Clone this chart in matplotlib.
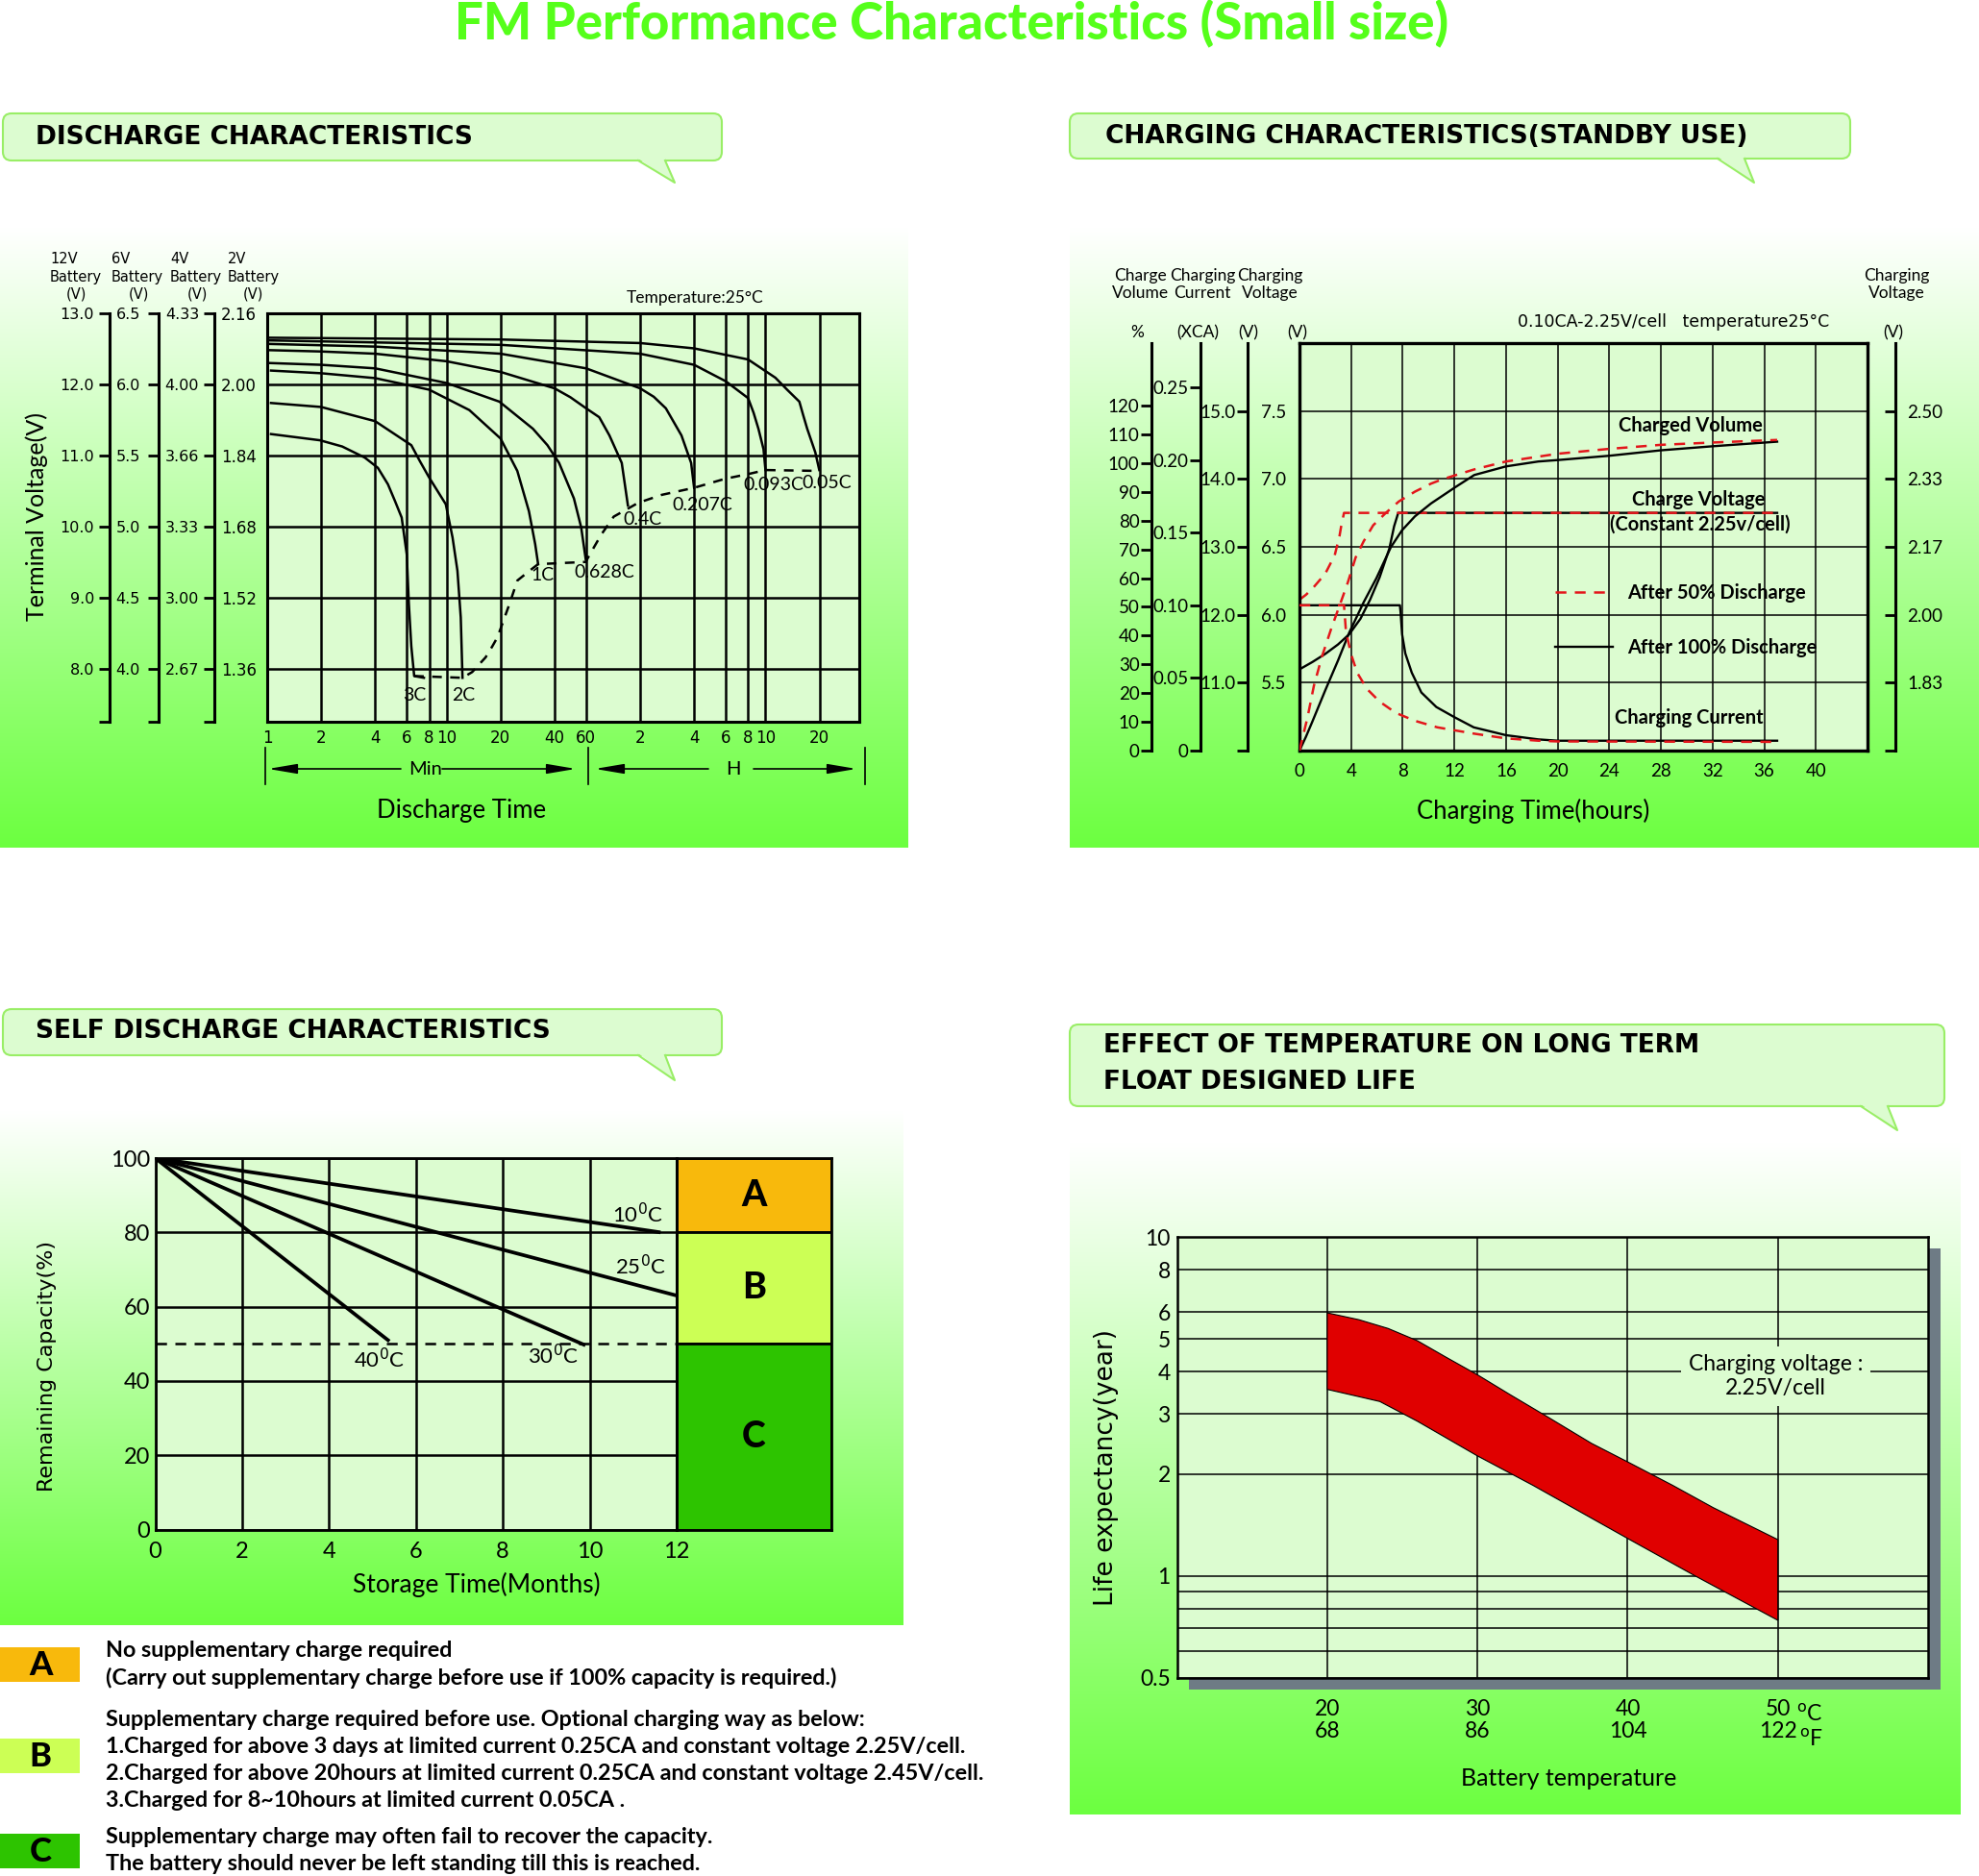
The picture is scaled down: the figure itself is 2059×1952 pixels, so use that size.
import numpy as np
import matplotlib
matplotlib.use("Agg")
import matplotlib.pyplot as plt
from matplotlib.colors import LinearSegmentedColormap
from matplotlib.patches import FancyBboxPatch, Polygon, Rectangle
from matplotlib.ticker import NullLocator

# ---------------------------------------------------------------- data
# discharge curves: time in minutes, terminal voltage per 2V cell
dis_names = ["3C", "2C", "1C", "0.628C", "0.4C", "0.207C", "0.093C", "0.05C"]
t_3c = [1.05, 1.97, 2.62, 3.50, 4.14, 4.71, 5.16, 5.62, 6.00, 6.16, 6.36, 6.60, 7.48]
v_3c = [1.888, 1.874, 1.860, 1.835, 1.812, 1.775, 1.737, 1.700, 1.617, 1.507, 1.410, 1.343, 1.339]
t_2c = [1.05, 2.0, 4.0, 6.36, 7.1, 8.0, 9.9, 10.8, 11.5, 12.0, 12.27]
v_2c = [1.958, 1.949, 1.917, 1.863, 1.827, 1.790, 1.730, 1.655, 1.580, 1.475, 1.339]
t_1c = [1.05, 2, 4, 8, 13.4, 20, 24.8, 28.8, 31.2, 32.4]
v_1c = [2.031, 2.025, 2.014, 1.988, 1.942, 1.878, 1.805, 1.714, 1.640, 1.595]
t_0628 = [1.03, 2, 4, 10, 19.7, 30.3, 36.5, 42.4, 51.3, 56.3, 59.7]
v_0628 = [2.048, 2.044, 2.036, 2.003, 1.961, 1.900, 1.863, 1.823, 1.743, 1.678, 1.606]
t_04 = [1.03, 2, 4, 10, 20, 40, 49, 60, 71, 80.9, 94.8, 102.6]
v_04 = [2.077, 2.074, 2.069, 2.052, 2.028, 1.991, 1.971, 1.946, 1.926, 1.885, 1.823, 1.727]
t_0207 = [1.03, 4, 20, 60, 120, 143, 167, 204, 231, 240]
v_0207 = [2.091, 2.085, 2.069, 2.036, 1.991, 1.972, 1.946, 1.885, 1.823, 1.767]
t_0093 = [1.03, 20, 120, 240, 360, 480, 515, 548, 585, 600]
v_0093 = [2.099, 2.089, 2.069, 2.044, 2.007, 1.969, 1.936, 1.900, 1.854, 1.807]
t_005 = [1.03, 20, 120, 240, 480, 681, 792, 927, 973, 1025, 1137, 1197]
v_005 = [2.105, 2.101, 2.093, 2.081, 2.056, 2.015, 1.988, 1.961, 1.931, 1.900, 1.847, 1.807]
dis_times = [t_3c, t_2c, t_1c, t_0628, t_04, t_0207, t_0093, t_005]
dis_volts = [v_3c, v_2c, v_1c, v_0628, v_04, v_0207, v_0093, v_005]
# final discharge voltage (dashed)
cut_t = [6.6, 12.27, 13.9, 16.5, 18.0, 19.2, 20.4, 22.5, 24.8, 29.0, 32.4, 59.7,
         62.3, 73.0, 85.5, 102.6, 116.9, 158, 240, 355, 494, 600, 1197]
cut_v = [1.343, 1.339, 1.352, 1.385, 1.410, 1.430, 1.459, 1.507, 1.558, 1.580, 1.595, 1.600,
         1.614, 1.662, 1.702, 1.720, 1.733, 1.751, 1.767, 1.787, 1.799, 1.807, 1.805]
dis_ticks = [1, 2, 4, 6, 8, 10, 20, 40, 60, 120, 240, 360, 480, 600, 1200]
dis_tick_labels = ["1", "2", "4", "6", "8", "10", "20", "40", "60", "2", "4", "6", "8", "10", "20"]
cell_levels = [2.16, 2.00, 1.84, 1.68, 1.52, 1.36]
v12_labels = ["13.0", "12.0", "11.0", "10.0", "9.0", "8.0"]
v6_labels = ["6.5", "6.0", "5.5", "5.0", "4.5", "4.0"]
v4_labels = ["4.33", "4.00", "3.66", "3.33", "3.00", "2.67"]
v2_labels = ["2.16", "2.00", "1.84", "1.68", "1.52", "1.36"]

# charging (hours) -> volume %, volts per cell, current in CA
vol100_h = [0, 0.5, 1.0, 2.0, 3.0, 3.85, 4.97, 5.96, 7.08, 7.95, 8.94, 10.19, 12.05, 13.54,
            16.0, 18.5, 20.0, 24.0, 28.0, 32.0, 37.0]
vol100 = [0, 4.8, 10.1, 21.0, 31.5, 41.0, 51.6, 60.0, 70.8, 76.7, 81.5, 86.0, 91.6, 95.9,
          98.9, 100.6, 101.1, 102.6, 104.5, 105.9, 107.5]
vol50_h = [0, 0.62, 1.12, 1.74, 2.48, 3.11, 3.73, 4.35, 4.97, 5.71, 6.71, 7.70, 8.94, 10.19,
           11.06, 13.5, 16.0, 20.0, 24.0, 28.0, 32.0, 37.0]
vol50 = [0, 11.5, 22.6, 32.7, 42.7, 50.5, 58.3, 67.2, 72.8, 78.4, 82.8, 86.7, 90.1, 92.9,
         94.4, 97.8, 100.6, 103.3, 105.0, 106.4, 107.2, 108.1]
volt100_h = [0, 1.0, 2.0, 2.98, 3.85, 4.72, 5.47, 6.21, 6.96, 7.33, 7.65, 37.0]
volt100 = [1.866, 1.884, 1.904, 1.927, 1.952, 1.990, 2.037, 2.092, 2.162, 2.217, 2.25, 2.25]
volt50_h = [0, 0.5, 1.0, 2.0, 2.73, 3.1, 3.23, 3.45, 37.0]
volt50 = [2.037, 2.049, 2.064, 2.101, 2.146, 2.193, 2.217, 2.25, 2.25]
cur100_h = [0, 7.78, 7.83, 7.95, 8.2, 8.7, 9.44, 10.6, 12.0, 13.5, 16.0, 18.5, 20.0, 37.0]
cur100 = [0.10, 0.10, 0.0955, 0.080, 0.0668, 0.0536, 0.040, 0.030, 0.023, 0.016, 0.0106,
          0.0077, 0.0068, 0.0068]
cur50_h = [0, 3.45, 3.6, 3.98, 4.47, 5.22, 6.21, 7.45, 8.94, 10.68, 13.5, 16.0, 18.5, 20.0, 37.0]
cur50 = [0.10, 0.10, 0.0822, 0.0668, 0.0536, 0.0425, 0.0337, 0.026, 0.0205, 0.016, 0.0117,
         0.0084, 0.0068, 0.0063, 0.006]
chg_ticks = [11 / 6, 2.0, 13 / 6, 7 / 3, 2.5]
chg_v6 = ["5.5", "6.0", "6.5", "7.0", "7.5"]
chg_v12 = ["11.0", "12.0", "13.0", "14.0", "15.0"]
chg_cell = ["1.83", "2.00", "2.17", "2.33", "2.50"]
vol_ticks = list(range(0, 121, 10))
cur_ticks = [0, 0.05, 0.10, 0.15, 0.20, 0.25]
cur_labels = ["0", "0.05", "0.10", "0.15", "0.20", "0.25"]

# self discharge: months -> remaining capacity %
sd_temps = ["10", "25", "30", "40"]
sd_months = [[0, 11.63], [0, 12.0], [0, 9.9], [0, 5.39]]
sd_capacity = [[100, 80.0], [100, 63.0], [100, 49.6], [100, 50.7]]
zone_names = ["A", "B", "C"]
zone_hi = [100, 80, 50]
zone_lo = [80, 50, 0]
zone_colors = ["#f8b90c", "#ccff55", "#2dc400"]
zone_notes = [
    ["No supplementary charge required",
     "(Carry out supplementary charge before use if 100% capacity is required.)"],
    ["Supplementary charge required before use. Optional charging way as below:",
     "1.Charged for above 3 days at limited current 0.25CA and constant voltage 2.25V/cell.",
     "2.Charged for above 20hours at limited current 0.25CA and constant voltage 2.45V/cell.",
     "3.Charged for 8~10hours at limited current 0.05CA ."],
    ["Supplementary charge may often fail to recover the capacity.",
     "The battery should never be left standing till this is reached."],
]

# float life vs temperature
life_T_hi = [20, 22.1, 24.05, 26.0, 27.9, 30.0, 32.2, 34.7, 37.6, 40.0, 43.0, 45.7, 50.0]
life_hi = [5.97, 5.70, 5.37, 4.94, 4.42, 3.92, 3.42, 2.94, 2.46, 2.17, 1.85, 1.59, 1.28]
life_T_lo = [20, 21.35, 23.5, 26.0, 30.0, 33.7, 40.0, 44.5, 50.0]
life_lo = [3.55, 3.44, 3.27, 2.86, 2.26, 1.85, 1.29, 1.0, 0.74]
temp_c = [20, 30, 40, 50]
temp_f = [68, 86, 104, 122]
life_ticks = [0.5, 0.6, 0.7, 0.8, 0.9, 1, 2, 3, 4, 5, 6, 8, 10]
life_labels = ["0.5", "", "", "", "", "1", "2", "3", "4", "5", "6", "8", "10"]

# ---------------------------------------------------------------- style
W, H = 2059, 1952
plt.rcParams["font.family"] = ["Lato", "DejaVu Sans"]
plt.rcParams["mathtext.fontset"] = "dejavusans"
VERD = ["DejaVu Sans"]
PLOT_BG = "#dcfcd0"
BOX_FACE = "#dcfcd0"
BOX_EDGE = "#99ee66"
RED = "#e3161b"
panel_cmap = LinearSegmentedColormap.from_list("panel", ["#ffffff", "#6cff40"])

fig = plt.figure(figsize=(W / 100, H / 100), dpi=100)
bg = fig.add_axes([0, 0, 1, 1])
bg.set_zorder(-5)
bg.axis("off")


def px(x0, y0, x1, y1):
    return [x0 / W, 1 - y1 / H, (x1 - x0) / W, (y1 - y0) / H]


def panel(x0, y0, x1, y1):
    bg.imshow(np.linspace(0, 1, 256)[:, None], extent=(x0, x1, y1, y0), cmap=panel_cmap,
              aspect="auto", interpolation="bilinear", zorder=0)


def callout(x0, y0, x1, y1, tip, lines, tx, tys):
    bg.add_patch(FancyBboxPatch((x0, y0), x1 - x0, y1 - y0, boxstyle="round,pad=0,rounding_size=9",
                                fc=BOX_FACE, ec=BOX_EDGE, lw=1.5, zorder=2))
    px_, py_ = tip
    bg.add_patch(Polygon([(px_ - 38, y1 - 2), (px_, py_), (px_ - 10, y1 - 2)], closed=True,
                         fc=BOX_FACE, ec="none", zorder=3))
    bg.plot([px_ - 38, px_, px_ - 10], [y1, py_, y1], color=BOX_EDGE, lw=1.5, zorder=3)
    for s, ty in zip(lines, tys):
        bg.text(tx, ty, s, fontfamily=VERD, weight="bold", fontsize=19, va="center", zorder=4)


def scale_bar(x, y0, y1, lim, ticks, labels, side="left", pad=2.0, size=12, family=None):
    a = fig.add_axes(px(x - 1, y0, x + 1, y1))
    a.set_ylim(lim)
    a.patch.set_visible(False)
    a.set_xticks([])
    for name, sp in a.spines.items():
        sp.set_visible(name == side)
        sp.set_linewidth(2.2)
    a.set_yticks(ticks, labels)
    if side == "right":
        a.yaxis.tick_right()
    a.tick_params(axis="y", direction="in" if side == "right" else "out", length=8, width=2,
                  pad=pad, labelsize=size, labelfontfamily=family or plt.rcParams["font.family"])
    return a


# ---------------------------------------------------------------- backgrounds
panel(0, 236, 945, 882)
panel(1113, 236, 2059, 882)
panel(0, 1155, 940, 1691)
panel(1113, 1188, 2040, 1888)
bg.text(990, 40, "FM Performance Characteristics (Small size)", ha="center", va="baseline",
        fontsize=38, weight="black", color="#55ff1a")
callout(3, 118, 751, 167, (702, 190), ["DISCHARGE CHARACTERISTICS"], 37, [143])
callout(1113, 118, 1925, 165, (1825, 190), ["CHARGING CHARACTERISTICS(STANDBY USE)"], 1150, [142])
callout(3, 1050, 751, 1098, (702, 1124), ["SELF DISCHARGE CHARACTERISTICS"], 37, [1073])
callout(1113, 1066, 2023, 1151, (1974, 1176),
        ["EFFECT OF TEMPERATURE ON LONG TERM", "FLOAT DESIGNED LIFE"], 1148, [1088, 1126])

# ---------------------------------------------------------------- discharge characteristics
ax1 = fig.add_axes(px(278, 326, 894, 751))
ax1.set_facecolor(PLOT_BG)
ax1.set_xscale("log")
ax1.set_xlim(1, 2000)
ax1.set_ylim(1.24, 2.16)
ax1.set_xticks(dis_ticks, dis_tick_labels)
ax1.xaxis.set_minor_locator(NullLocator())
ax1.set_yticks(cell_levels, v2_labels)
ax1.grid(True, color="black", lw=1.8)
ax1.tick_params(length=0, labelsize=12, labelfontfamily=VERD)
ax1.tick_params(axis="x", pad=6)
ax1.tick_params(axis="y", pad=8)
for sp in ax1.spines.values():
    sp.set_linewidth(2.2)
for t, v in zip(dis_times, dis_volts):
    ax1.plot(t, v, color="black", lw=1.8, solid_joinstyle="round")
ax1.plot(cut_t, cut_v, color="black", lw=1.8, ls=(0, (4, 3.5)))
dis_label_pos = [(6.6, 1.30), (12.4, 1.30), (34.5, 1.571), (76, 1.576), (123, 1.695),
                 (268, 1.729), (667, 1.773), (1315, 1.777)]
for name, (lt, lv) in zip(dis_names, dis_label_pos):
    ax1.text(lt, lv, name, ha="center", va="center", fontsize=14)

for x, labs, pad in [(115, v12_labels, 3.5), (165.5, v6_labels, 5.5), (224, v4_labels, 3.4)]:
    scale_bar(x, 326, 751, (1.24, 2.16), cell_levels + [1.24], labs + [""], pad=pad,
              size=11.5, family=VERD)
for lx, cx, top in [(52, 79, "12V"), (116, 144, "6V"), (177, 205, "4V"), (237, 263.5, "2V")]:
    bg.text(lx, 269, top, fontsize=10.5, fontfamily=VERD, va="center")
    bg.text(lx, 288, "Battery", fontsize=10.5, fontfamily=VERD, va="center")
    bg.text(cx, 306, "(V)", fontsize=10.5, fontfamily=VERD, va="center", ha="center")
bg.text(723, 310, "Temperature:25°C", fontsize=12.5, ha="center", va="center")
bg.text(38, 538, "Terminal Voltage(V)", fontsize=18, rotation=90, ha="center", va="center")
bg.text(480, 844, "Discharge Time", fontsize=18.5, ha="center", va="center")
arrow = dict(arrowstyle="-|>,head_length=1.3,head_width=0.22", color="black", lw=1.2,
             shrinkA=0, shrinkB=0, mutation_scale=14)
for tip, tail in [((279, 800), (417, 800)), ((599, 800), (460, 800)),
                  ((619, 800), (737, 800)), ((891, 800), (784, 800))]:
    bg.annotate("", xy=tip, xytext=tail, arrowprops=arrow)
for x in (275.5, 612, 900):
    bg.plot([x, x], [778, 816], color="black", lw=1.2)
bg.text(443, 800, "Min", fontsize=14.5, ha="center", va="center")
bg.text(763, 800, "H", fontsize=14.5, ha="center", va="center")

# ---------------------------------------------------------------- charging characteristics
V_LO, V_HI = 5 / 3, 8 / 3
ax2 = fig.add_axes(px(1352, 357, 1943, 781))
ax2.set_facecolor(PLOT_BG)
ax2.set_xlim(0, 44)
ax2.set_ylim(V_LO, V_HI)
ax2.set_xticks(range(0, 41, 4))
ax2.set_yticks(chg_ticks, chg_v6)
ax2.grid(True, color="black", lw=1.1)
ax2.tick_params(length=0, labelsize=13.5)
ax2.tick_params(axis="x", pad=9)
ax2.tick_params(axis="y", pad=10)
for sp in ax2.spines.values():
    sp.set_linewidth(2.4)
axq = ax2.twinx()
axq.set_ylim(0, 141.8)
axq.set_axis_off()
axi = ax2.twinx()
axi.set_ylim(0, 0.2804)
axi.set_axis_off()

dash = (0, (4.5, 3.5))
axi.plot(cur100_h, cur100, color="black", lw=1.7)
axi.plot(cur50_h, cur50, color=RED, lw=1.8, ls=dash)
ax2.plot(volt100_h, volt100, color="black", lw=1.7)
ax2.plot(volt50_h, volt50, color=RED, lw=1.8, ls=dash)
l100, = axq.plot(vol100_h, vol100, color="black", lw=1.7)
l50, = axq.plot(vol50_h, vol50, color=RED, lw=1.8, ls=dash)
ax2.legend([l50, l100], ["After 50% Discharge", "After 100% Discharge"], loc="upper left",
           bbox_to_anchor=(19.8, 2.078), bbox_transform=ax2.transData, frameon=False,
           prop=dict(size=14.5, weight="bold"), handlelength=3.0, handletextpad=0.75,
           labelspacing=1.85, borderpad=0, borderaxespad=0)
for s, h, v in [("Charged Volume", 30.3, 2.464), ("Charge Voltage", 30.9, 2.282),
                ("(Constant 2.25v/cell)", 31.05, 2.221), ("Charging Current", 30.2, 1.747)]:
    ax2.text(h, v, s, ha="center", va="center", fontsize=14.5, weight="bold")

scale_bar(1199, 357, 781, (0, 141.8), vol_ticks, [str(v) for v in vol_ticks], pad=1, size=13.5)
scale_bar(1250, 357, 781, (0, 0.2804), cur_ticks, cur_labels, pad=1, size=13.5)
scale_bar(1299, 357, 781, (V_LO, V_HI), [V_LO] + chg_ticks, [""] + chg_v12, pad=1, size=13.5)
scale_bar(1971, 357, 781, (V_LO, V_HI), [V_LO] + chg_ticks, [""] + chg_cell, side="right",
          pad=9, size=13.5)
for cx, s in [(1187, "Charge\nVolume"), (1251, "Charging\nCurrent"), (1321, "Charging\nVoltage"),
              (1973, "Charging\nVoltage")]:
    bg.text(cx, 296, s, fontsize=12.5, ha="center", va="center", linespacing=1.15)
for cx, s in [(1183, "%"), (1246, "(XCA)"), (1299, "(V)"), (1350, "(V)"), (1970, "(V)")]:
    bg.text(cx, 346, s, fontsize=12.5, ha="center", va="center")
bg.text(1741, 335, "0.10CA-2.25V/cell   temperature25°C", fontsize=12.5, fontfamily=VERD,
        ha="center", va="center")
bg.text(1595, 844, "Charging Time(hours)", fontsize=18.5, ha="center", va="center")

# ---------------------------------------------------------------- self discharge
ax3 = fig.add_axes(px(161.5, 1205, 704, 1591.6))
ax3.set_facecolor(PLOT_BG)
ax3.set_xlim(0, 12)
ax3.set_ylim(0, 100)
ax3.set_xticks(range(0, 13, 2))
ax3.set_yticks(range(0, 101, 20))
ax3.grid(True, color="black", lw=1.8)
ax3.tick_params(length=0, labelsize=17)
ax3.tick_params(axis="x", pad=9)
ax3.tick_params(axis="y", pad=4)
for sp in ax3.spines.values():
    sp.set_linewidth(2.0)
ax3.axhline(50, color="black", lw=1.8, ls=(0, (4.5, 3.5)))
for m, c in zip(sd_months, sd_capacity):
    ax3.plot(m, c, color="black", lw=2.7, solid_capstyle="butt")
sd_label_pos = [(11.1, 84.9), (11.16, 70.8), (9.16, 46.8), (5.16, 45.7)]
for tname, (lx, ly) in zip(sd_temps, sd_label_pos):
    ax3.text(lx, ly, tname + r"$^{\rm 0}$C", ha="center", va="center", fontsize=16)

ax3b = fig.add_axes(px(704, 1205, 865, 1591.6))
ax3b.set_xlim(0, 1)
ax3b.set_ylim(0, 100)
ax3b.set_xticks([])
ax3b.set_yticks([])
for sp in ax3b.spines.values():
    sp.set_linewidth(2.0)
for name, lo, hi, col in zip(zone_names, zone_lo, zone_hi, zone_colors):
    ax3b.axhspan(lo, hi, fc=col, ec="black", lw=2.0)
    ax3b.text(0.5, (lo + hi) / 2, name, ha="center", va="center", fontsize=27, weight="black")

bg.text(48.6, 1422, "Remaining Capacity(%)", fontsize=16, fontfamily=VERD, rotation=90,
        ha="center", va="center")
bg.text(496, 1649, "Storage Time(Months)", fontsize=19, ha="center", va="center")

# legend of zones
for name, col, (y0, y1), notes, ty in zip(zone_names, zone_colors,
                                          [(1714, 1750), (1809, 1845), (1908, 1944)], zone_notes,
                                          [1718, 1789, 1911]):
    bg.add_patch(Rectangle((0, y0), 83, y1 - y0, fc=col, ec="none"))
    bg.text(42, (y0 + y1) / 2 + 1, name, fontsize=25, weight="black", ha="center", va="center")
    for i, s in enumerate(notes):
        bg.text(110, ty + i * 28.3, s, fontsize=16.8, weight="bold", va="center")

# ---------------------------------------------------------------- float life vs temperature
bg.add_patch(Rectangle((1237, 1299), 782, 459, fc="#6e7b85", ec="none", zorder=1))
ax4 = fig.add_axes(px(1224.6, 1287, 2006, 1746))
ax4.set_facecolor(PLOT_BG)
ax4.set_yscale("log")
ax4.set_xlim(10, 60)
ax4.set_ylim(0.5, 10)
ax4.set_yticks(life_ticks, life_labels)
ax4.yaxis.set_minor_locator(NullLocator())
ax4.set_xticks(temp_c, [f"{c}\n{f}" for c, f in zip(temp_c, temp_f)])
ax4.grid(True, color="black", lw=1.1)
ax4.set_axisbelow(True)
ax4.tick_params(length=0, labelsize=16.5)
ax4.tick_params(axis="x", pad=16)
ax4.tick_params(axis="y", pad=5)
for lbl in ax4.get_xticklabels():
    lbl.set_linespacing(1.1)
for sp in ax4.spines.values():
    sp.set_linewidth(1.8)
ax4.fill(life_T_hi + life_T_lo[::-1], life_hi + life_lo[::-1], fc="#e00000", ec="black",
         lw=0.8, zorder=3)
ax4.text(49.86, 3.88, "Charging voltage :\n2.25V/cell", ha="center", va="center", fontsize=16.5,
         linespacing=1.2, zorder=4, bbox=dict(fc=PLOT_BG, ec="none", pad=6))
bg.text(1869, 1784, r"$^{\rm o}$C", fontsize=16.5, va="center")
bg.text(1872, 1810, r"$^{\rm o}$F", fontsize=16.5, va="center")
bg.text(1151.5, 1527, "Life expectancy(year)", fontsize=19, fontfamily=VERD, rotation=90,
        ha="center", va="center")
bg.text(1632, 1851, "Battery temperature", fontsize=18, ha="center", va="center")

bg.set_xlim(0, W)
bg.set_ylim(H, 0)
fig.savefig("out.png", dpi=100)
